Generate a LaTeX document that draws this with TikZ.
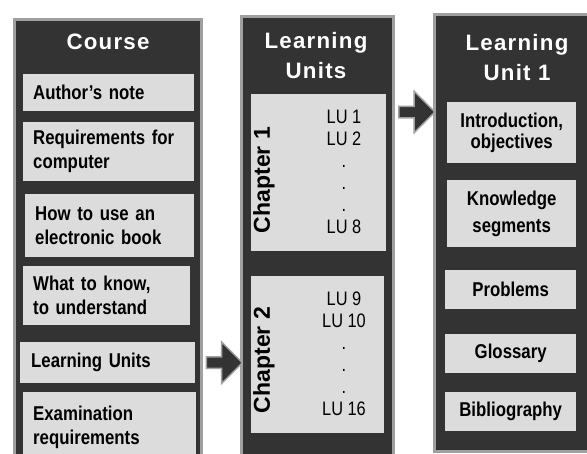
\documentclass[tikz,border=0pt]{standalone}
\usepackage{fontspec}
\setmainfont{Liberation Sans}
\newfontfamily\boxfont{Liberation Sans}[FakeStretch=0.84]
\newfontfamily\headfont{Liberation Sans}[LetterSpace=5.5]
\usetikzlibrary{shapes.arrows,calc}

\definecolor{paneldark}{HTML}{333333}
\definecolor{panelrim}{HTML}{A0A0A0}
\definecolor{itemgray}{HTML}{DCDCDC}

\tikzset{
	panel/.style={draw=panelrim, line width=3pt, fill=paneldark, anchor=north, inner sep=0pt},
	heading/.style={text=white, inner sep=0pt, anchor=north, align=center, font=\headfont\bfseries\fontsize{22.3}{30}\selectfont},
	entry/.style={fill=itemgray, anchor=north west, inner xsep=10pt, inner ysep=0pt, align=left, font=\boxfont\bfseries\fontsize{20}{24}\selectfont},
	topic/.style={fill=itemgray, anchor=north west, inner sep=0pt, align=center, minimum width=131pt, font=\boxfont\bfseries\fontsize{20}{24}\selectfont},
	chapbox/.style={fill=itemgray, anchor=north west, inner sep=0pt},
	chaptitle/.style={rotate=90, inner sep=0pt, font=\bfseries\fontsize{23}{26}\selectfont},
	unitno/.style={anchor=base, inner sep=0pt, font=\boxfont\fontsize{19.5}{22}\selectfont},
	flowarrow/.style={single arrow, draw=panelrim, line width=1.5pt, fill=paneldark, minimum height=36pt, minimum width=40pt, single arrow head extend=15pt, single arrow head indent=0pt, inner xsep=0pt, inner ysep=5pt}
}

\begin{document}
\begin{tikzpicture}[x=1pt, y=-1pt]
			\useasboundingbox (0,0) rectangle (587,453);
			\clip (0,0) rectangle (587,453);

			\node[panel, minimum width=187pt, minimum height=460pt] (course) at (108,17.5) {};
			\node[panel, minimum width=152pt, minimum height=460pt] (units) at (317.5,14.5) {};
			\node[panel, minimum width=170pt, minimum height=437pt] (unitone) at (519.5,12.5) {};

			\node[heading] (coursehead) at (108,34) {Course};
			\node[heading] (unitshead) at (316,32) {Learning\\Units};
			\node[heading] (unithead) at (517,34) {Learning\\Unit 1};

			\node[entry, text width=151pt, minimum height=37pt] (note) at (23,74) {Author’s note};
			\node[entry, text width=151pt, minimum height=59pt] (reqs) at (23,122) {Requirements for\\computer};
			\node[entry, text width=149pt, minimum height=63pt] (ebook) at (25,194) {How to use an\\electronic book};
			\node[entry, text width=147pt, minimum height=59pt] (know) at (23,266) {What to know,\\to understand};
			\node[entry, text width=153pt, minimum height=41pt, inner xsep=11pt] (lunits) at (20,342) {Learning Units};
			\node[entry, text width=153pt, minimum height=70pt] (exam) at (23,392) {Examination\\requirements};

			\node[chapbox, minimum width=135pt, minimum height=157pt] (chapA) at (251,94) {};
			\node[chapbox, minimum width=133pt, minimum height=157pt] (chapB) at (251,276) {};
			\node[chaptitle] (chapAtitle) at (264,180) {Chapter 1};
			\node[chaptitle] (chapBtitle) at (264,360) {Chapter 2};
			\foreach \t [count=\i] in {LU 1,LU 2,.,.,.,LU 8}
				\node[unitno] (luA\i) at (344,{123+22*(\i-1)}) {\t};
			\foreach \t [count=\i] in {LU 9,LU 10,.,.,.,LU 16}
				\node[unitno] (luB\i) at (344,{305+22*(\i-1)}) {\t};

			\node[topic, minimum width=129pt, minimum height=61pt, font=\boxfont\bfseries\fontsize{20}{20.5}\selectfont] (intro) at (447,102) {Introduction,\\objectives};
			\node[topic, minimum width=129pt, minimum height=67pt, font=\boxfont\bfseries\fontsize{20}{27}\selectfont] (segments) at (447,180) {Knowledge\\segments};
			\node[topic, minimum height=39pt] (problems) at (445,270) {Problems};
			\node[topic, minimum height=39pt] (glossary) at (445,334) {Glossary};
			\node[topic, minimum height=39pt] (biblio) at (445,392) {Bibliography};

			\node[flowarrow] (toUnits) at ($(course.east |- lunits.east)!0.5!(units.west |- lunits.east)$) {};
			\node[flowarrow] (toUnitOne) at ($(units.east |- 0,112)!0.5!(unitone.west |- 0,112)$) {};
\end{tikzpicture}
\end{document}
